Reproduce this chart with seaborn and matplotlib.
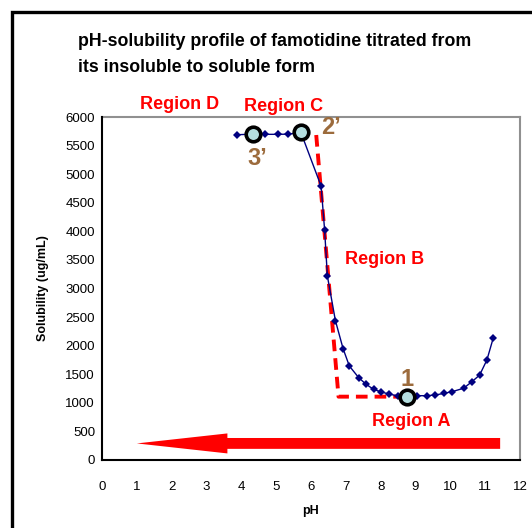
import matplotlib
matplotlib.use("Agg")
import matplotlib.pyplot as plt
import seaborn as sns
import pandas as pd
from matplotlib.patches import Rectangle

# Measured solubility profile
ph = [3.87, 4.34, 4.68, 5.05, 5.34, 5.71, 6.29, 6.39, 6.47, 6.70, 6.92, 7.10,
      7.37, 7.58, 7.80, 8.02, 8.23, 8.50, 8.76, 9.04, 9.33, 9.57, 9.81, 10.05,
      10.38, 10.62, 10.84, 11.05, 11.23]
solubility = [5690, 5700, 5697, 5697, 5700, 5730, 4790, 4030, 3220, 2440, 1950,
              1645, 1440, 1325, 1235, 1190, 1155, 1120, 1110, 1125, 1125, 1137,
              1165, 1195, 1255, 1370, 1485, 1750, 2130]

# Highlighted points and their labels
key_ph = [4.34, 5.71, 8.76]
key_sol = [5700, 5730, 1108]
key_labels = ["3\u2019", "2\u2019", "1"]
key_label_pos = [(4.45, 5280), (6.58, 5810), (8.76, 1415)]

# Idealised profile (dashed)
ideal_ph = [6.15, 6.79, 8.76]
ideal_sol = [5685, 1108, 1108]

# Region annotations
region_names = ["Region D", "Region C", "Region B", "Region A"]
region_pos = [(2.24, 6210), (5.20, 6175), (8.10, 3500), (8.88, 680)]

x_ticks = list(range(0, 13))
y_ticks = list(range(0, 6001, 500))

sns.set_theme(style="white")
plt.rcParams["font.family"] = ["Liberation Sans", "DejaVu Sans"]
plt.rcParams.update({"text.color": "black", "axes.labelcolor": "black",
                     "xtick.color": "black", "ytick.color": "black"})

fig = plt.figure(figsize=(5.32, 5.28), dpi=100)
ax = fig.add_axes([102 / 532, 1 - 460 / 528, 418 / 532, 343 / 528])

df = pd.DataFrame({"pH": ph, "Solubility": solubility})
sns.lineplot(data=df, x="pH", y="Solubility", ax=ax, color="#000080",
             linewidth=1.0, marker="D", markersize=4.5, markeredgewidth=0,
             sort=False, zorder=4)

ax.plot(ideal_ph, ideal_sol, color="red", linewidth=2.8, dashes=(3.0, 1.8),
        zorder=3)

ax.plot(key_ph, key_sol, linestyle="none", marker="o", markersize=10.5,
        markerfacecolor="#b5dfe0", markeredgecolor="black",
        markeredgewidth=2.6, zorder=5)
for lab, (lx, ly) in zip(key_labels, key_label_pos):
    ax.text(lx, ly, lab, color="#9c6b3c", fontsize=17, fontweight="bold",
            ha="center", va="center", zorder=6)

for name, (rx, ry) in zip(region_names, region_pos):
    ax.text(rx, ry, name, color="red", fontsize=13, fontweight="bold",
            ha="center", va="center", clip_on=False, zorder=6)

# Titration direction arrow
ax.arrow(11.43, 290, -10.43, 0, width=190, head_width=350, head_length=2.6,
         length_includes_head=True, color="red", linewidth=0, zorder=2)

ax.set_xlim(0, 12)
ax.set_ylim(0, 6000)
ax.set_xticks(x_ticks)
ax.set_yticks(y_ticks)
ax.tick_params(axis="both", direction="inout", length=6, width=1.2,
               labelsize=9.5, colors="black")
ax.tick_params(axis="y", pad=2)
ax.tick_params(axis="x", pad=12)
ax.set_xlabel("pH", fontsize=9, fontweight="bold", labelpad=9)
ax.set_ylabel("Solubility (ug/mL)", fontsize=9, fontweight="bold", labelpad=12)

for side in ["left", "bottom"]:
    ax.spines[side].set_color("black")
    ax.spines[side].set_linewidth(1.5)
for side in ["top", "right"]:
    ax.spines[side].set_color("#909090")
    ax.spines[side].set_linewidth(1.5)
ax.spines["top"].set_zorder(1)

fig.text(78 / 532, 1 - 42 / 528,
         "pH-solubility profile of famotidine titrated from",
         fontsize=12.8, fontweight="bold", ha="left", va="center")
fig.text(78 / 532, 1 - 67 / 528, "its insoluble to soluble form",
         fontsize=12.8, fontweight="bold", ha="left", va="center")

# Outer chart frame
fig.patches.append(Rectangle((11.5 / 532, -0.1), 1.2, 1 - 12 / 528 + 0.1,
                             transform=fig.transFigure, fill=False,
                             edgecolor="black", linewidth=2.4))

fig.savefig("out.png", dpi=100)
